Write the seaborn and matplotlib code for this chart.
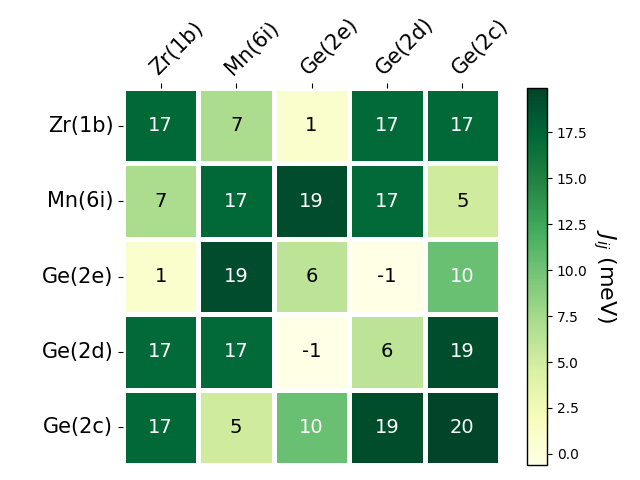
import matplotlib
matplotlib.use("Agg")
import matplotlib.pyplot as plt
import seaborn as sns
import numpy as np
import pandas as pd

# sites and exchange couplings (meV)
sites = ["Zr(1b)", "Mn(6i)", "Ge(2e)", "Ge(2d)", "Ge(2c)"]
row_zr = [17.2, 7.1, 0.9, 17.1, 17.2]
row_mn = [7.1, 17.2, 19.4, 17.1, 5.2]
row_ge2e = [0.9, 19.4, 6.2, -0.6, 10.3]
row_ge2d = [17.1, 17.1, -0.6, 6.2, 19.3]
row_ge2c = [17.2, 5.2, 10.3, 19.3, 19.9]

df = pd.DataFrame([row_zr, row_mn, row_ge2e, row_ge2d, row_ge2c],
                  index=sites, columns=sites)

fig = plt.figure(figsize=(6.4, 4.8), dpi=100)
ax = fig.add_axes([123/640, 15/480, 377/640, 377/480])
cax = fig.add_axes([527/640, 15/480, 20/640, 377/480])

sns.heatmap(df, ax=ax, cbar_ax=cax, cmap="YlGn", annot=True, fmt=".0f",
            annot_kws={"size": 14}, linewidths=2.2, linecolor="white",
            square=False)

# tekstfarge: hvit på mørke celler
vmin, vmax = df.values.min(), df.values.max()
vals = df.values.flatten()
for t, v in zip(ax.texts, vals):
    frac = (v - vmin) / (vmax - vmin)
    t.set_color("white" if frac > 0.5 else "black")

ax.xaxis.tick_top()
ax.set_xticklabels(sites, rotation=45, ha="left", rotation_mode="anchor", fontsize=15)
ax.set_yticklabels(sites, rotation=0, fontsize=15)
ax.tick_params(axis="both", length=3.5, width=0.8, pad=3.5)
ax.set_xlabel(""); ax.set_ylabel("")

cbar = ax.collections[0].colorbar
cbar.outline.set_visible(True)
cbar.outline.set_edgecolor("black")
cbar.outline.set_linewidth(1)
cbar.ax.tick_params(labelsize=10)
cbar.set_label("$J_{ij}$ (meV)", rotation=270, labelpad=22, fontsize=16)

fig.savefig("out.png", dpi=100)
